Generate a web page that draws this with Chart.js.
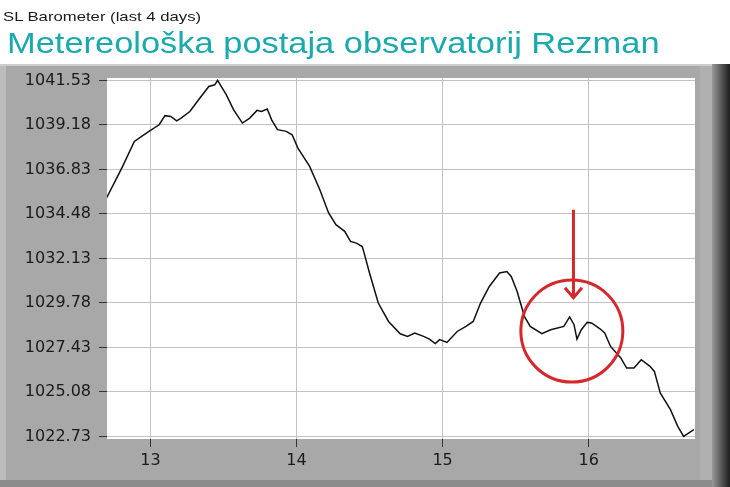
<!DOCTYPE html>
<html>
<head>
<meta charset="utf-8">
<script src="https://cdn.jsdelivr.net/npm/chart.js@4"></script>
<style>
  html, body { margin: 0; padding: 0; background: #fff; }
  #wrap { position: relative; width: 730px; height: 487px; overflow: hidden; }
  #myChart { position: absolute; left: 0; top: 0; }
  .ttl { position: absolute; left: 0; white-space: nowrap; transform-origin: 0 0; }
  #sub { top: 10.2px; left: 3px; font: 13.5px "Liberation Sans", Arial, sans-serif; line-height: 13.5px; color: #1a1a1a; }
  #main { top: 27.9px; left: 7px; font: 30px "Liberation Sans", Arial, sans-serif; line-height: 30px; color: #1aa9ac; }
</style>
</head>
<body>
<div id="wrap">
  <canvas id="myChart" width="730" height="487"></canvas>
  <span class="ttl" id="sub">SL Barometer (last 4 days)</span>
  <span class="ttl" id="main">Metereološka postaja observatorij Rezman</span>
</div>
<script>
// day of month (x) and sea level pressure in hPa (y)
const days = [
  12.70, 12.81, 12.89, 12.99, 13.06, 13.10, 13.14, 13.18, 13.21, 13.27,
  13.33, 13.40, 13.44, 13.46, 13.52, 13.57, 13.63, 13.68, 13.73, 13.76,
  13.80, 13.83, 13.87, 13.93, 13.97, 14.01, 14.09, 14.16, 14.22, 14.27,
  14.33, 14.37, 14.41, 14.45, 14.46, 14.50, 14.56, 14.63, 14.71, 14.76,
  14.81, 14.87, 14.91, 14.95, 14.98, 15.03, 15.10, 15.16, 15.21, 15.26,
  15.32, 15.39, 15.44, 15.47, 15.51, 15.56, 15.60, 15.68, 15.74, 15.83,
  15.87, 15.90, 15.92, 15.95, 15.99, 16.02, 16.08, 16.11, 16.15, 16.22,
  16.26, 16.31, 16.36, 16.42, 16.45, 16.49, 16.56, 16.61, 16.65, 16.72
];
const pressure = [
  1035.32, 1036.99, 1038.31, 1038.84, 1039.19, 1039.67, 1039.63, 1039.40, 1039.54, 1039.89,
  1040.51, 1041.21, 1041.30, 1041.53, 1040.77, 1039.98, 1039.28, 1039.54, 1039.95, 1039.89,
  1040.02, 1039.45, 1038.93, 1038.84, 1038.66, 1037.96, 1036.99, 1035.76, 1034.53, 1033.91,
  1033.56, 1033.03, 1032.94, 1032.76, 1032.50, 1031.36, 1029.77, 1028.80, 1028.15, 1028.01,
  1028.19, 1028.01, 1027.87, 1027.63, 1027.84, 1027.69, 1028.27, 1028.54, 1028.80, 1029.77,
  1030.65, 1031.36, 1031.44, 1031.18, 1030.39, 1029.07, 1028.54, 1028.15, 1028.36, 1028.54,
  1029.04, 1028.63, 1027.87, 1028.36, 1028.75, 1028.72, 1028.40, 1028.19, 1027.48, 1026.87,
  1026.34, 1026.34, 1026.78, 1026.43, 1026.16, 1025.02, 1024.14, 1023.26, 1022.73, 1023.08
];
const yTicks = [1022.73, 1025.08, 1027.43, 1029.78, 1032.13, 1034.48, 1036.83, 1039.18, 1041.53];
const xTicks = [13, 14, 15, 16];

// red circle + arrow marking the spot (data coords)
const markDay = 15.885, markP = 1028.29, markR = 51;
const arrowDay = 15.896, arrowFrom = 1034.70, arrowTo = 1030.05;

// stretch the title texts to the widths in the picture
const fitText = (id, w) => {
  const el = document.getElementById(id);
  el.style.transform = 'scaleX(' + (w / el.offsetWidth) + ')';
};
fitText('sub', 198);
fitText('main', 653);

const framePlugin = {
  id: 'frame',
  beforeDraw(chart) {
    const ctx = chart.ctx;
    const a = chart.chartArea;
    ctx.save();
    ctx.fillStyle = '#a8a8a8';
    ctx.fillRect(0, 64, 730, 423);
    ctx.fillStyle = '#cdcdcd';
    ctx.fillRect(0, 64, 730, 2);
    ctx.fillStyle = '#bcbcbc';
    ctx.fillRect(0, 66, 6, 421);
    ctx.fillStyle = '#b0b0b0';
    ctx.fillRect(700, 66, 13, 414);
    const g = ctx.createLinearGradient(712, 0, 730, 0);
    g.addColorStop(0, '#9a9a9a');
    g.addColorStop(1, '#1c1c1c');
    ctx.fillStyle = g;
    ctx.fillRect(712, 64, 18, 423);
    ctx.fillStyle = '#8c8c8c';
    ctx.fillRect(0, 480, 712, 7);
    ctx.fillStyle = '#ffffff';
    ctx.fillRect(a.left, a.top, a.right - a.left, a.bottom - a.top);
    ctx.restore();
  }
};

const markPlugin = {
  id: 'mark',
  afterDatasetsDraw(chart) {
    const ctx = chart.ctx;
    const xs = chart.scales.x, ys = chart.scales.y;
    const cx = xs.getPixelForValue(markDay), cy = ys.getPixelForValue(markP);
    const ax = xs.getPixelForValue(arrowDay);
    const ay1 = ys.getPixelForValue(arrowFrom), ay2 = ys.getPixelForValue(arrowTo);
    ctx.save();
    ctx.strokeStyle = '#d4282c';
    ctx.lineWidth = 3;
    ctx.beginPath();
    ctx.arc(cx, cy, markR, 0, Math.PI * 2);
    ctx.stroke();
    ctx.beginPath();
    ctx.moveTo(ax, ay1);
    ctx.lineTo(ax, ay2);
    ctx.moveTo(ax - 8.5, ay2 - 10);
    ctx.lineTo(ax, ay2);
    ctx.lineTo(ax + 8.5, ay2 - 10);
    ctx.stroke();
    ctx.restore();
  }
};

new Chart(document.getElementById('myChart'), {
  type: 'line',
  data: {
    datasets: [{
      data: days.map((d, i) => ({ x: d, y: pressure[i] })),
      borderColor: '#111111',
      borderWidth: 1.5,
      pointRadius: 0,
      tension: 0
    }]
  },
  options: {
    responsive: false,
    animation: false,
    layout: { padding: { top: 78, right: 35, left: 0, bottom: 0 } },
    plugins: { legend: { display: false }, tooltip: { enabled: false } },
    scales: {
      x: {
        type: 'linear',
        min: 12.703,
        max: 16.728,
        afterBuildTicks: s => { s.ticks = xTicks.map(v => ({ value: v })); },
        afterFit: s => { s.height = 48; },
        border: { display: false },
        grid: { color: '#c2c2c2', tickColor: '#333333', tickLength: 8 },
        ticks: {
          color: '#1a1a1a',
          padding: 4,
          maxRotation: 0,
          font: { family: 'DejaVu Sans', size: 16 },
          callback: v => String(v)
        }
      },
      y: {
        min: 1022.59,
        max: 1041.66,
        afterBuildTicks: s => { s.ticks = yTicks.map(v => ({ value: v })); },
        afterFit: s => { s.width = 107; },
        border: { display: false },
        grid: { color: '#c2c2c2', tickColor: '#333333', tickLength: 8 },
        ticks: {
          color: '#1a1a1a',
          padding: 8,
          font: { family: 'DejaVu Sans', size: 16 },
          callback: v => v.toFixed(2)
        }
      }
    }
  },
  plugins: [framePlugin, markPlugin]
});
</script>
</body>
</html>
